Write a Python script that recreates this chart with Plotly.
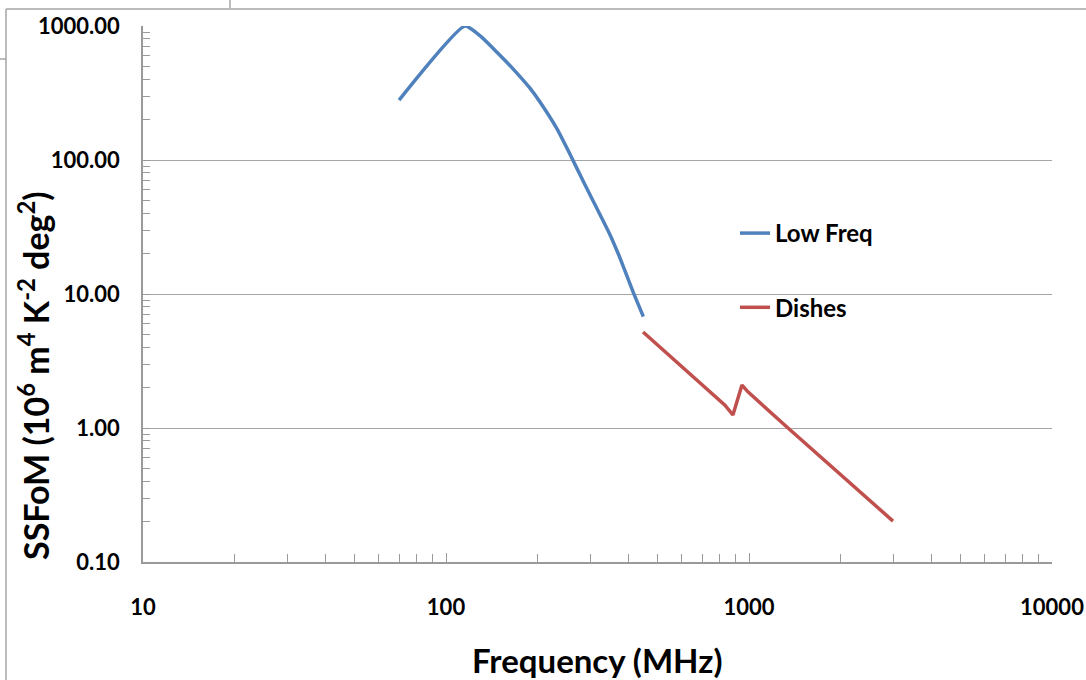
import plotly.graph_objects as go

# ---- data ----
low_freq_mhz = [70, 115.5, 130, 147, 167, 189, 204, 232, 260, 284, 314, 348, 375, 415, 448]
low_freq_ssfom = [280, 1000, 840, 640, 475, 345, 272, 172, 104, 69, 44, 27.6, 18.6, 10.3, 6.77]

dishes_mhz = [447, 833, 885, 948, 992, 1345, 2987]
dishes_ssfom = [5.21, 1.48, 1.25, 2.09, 1.86, 1.0, 0.202]

x_tickvals = [10, 100, 1000, 10000]
x_ticktext = ["10", "100", "1000", "10000"]
y_tickvals = [0.1, 1, 10, 100, 1000]
y_ticktext = ["0.10", "1.00", "10.00", "100.00", "1000.00"]
minor_digits = [2, 3, 4, 5, 6, 7, 8, 9]

# ---- geometry helpers (pixel -> paper) ----
W, H = 1086, 680
L, R, T, B = 143, 1052, 26, 562
def px(x):
    return (x - L) / (R - L)
def py(y):
    return (B - y) / (B - T)

FONT = "Lato"
GRID = "#a6a6a6"
AX = "#9a9a9a"

fig = go.Figure()
fig.add_trace(go.Scatter(x=low_freq_mhz, y=low_freq_ssfom, mode="lines", name="Low Freq",
                         legendgroup="a", line=dict(color="#4F81BD", width=3.5, shape="spline", smoothing=0.5)))
fig.add_trace(go.Scatter(x=dishes_mhz, y=dishes_ssfom, mode="lines", name="Dishes",
                         legendgroup="b", line=dict(color="#C0504D", width=3.5)))

x_minor = [d * 10 ** e for e in (1, 2, 3) for d in minor_digits]
y_minor = [d * 10 ** e for e in (-1, 0, 1, 2) for d in minor_digits]

fig.update_xaxes(type="log", range=[1, 4], tickvals=x_tickvals, ticktext=x_ticktext,
                 ticks="inside", ticklen=9, tickcolor=AX, tickwidth=1, automargin=False,
                 showline=True, linecolor=AX, linewidth=1.5, showgrid=False, zeroline=False,
                 tickfont=dict(family=FONT, size=22, color="black", weight="bold"),
                 ticklabelstandoff=25,
                 minor=dict(tickvals=x_minor, ticks="inside", ticklen=8, tickcolor=AX, showgrid=False))
fig.update_yaxes(type="log", range=[-1, 3], tickvals=y_tickvals, ticktext=y_ticktext,
                 ticks="inside", ticklen=7, tickcolor=AX, tickwidth=1, automargin=False,
                 showline=True, linecolor=AX, linewidth=1.5, showgrid=True, gridcolor=GRID, gridwidth=1.3,
                 zeroline=False,
                 tickfont=dict(family=FONT, size=22, color="black", weight="bold"),
                 ticklabelstandoff=17,
                 minor=dict(tickvals=y_minor, ticks="inside", ticklen=7, tickcolor=AX, showgrid=False))

fig.add_annotation(text="SSFoM (10<sup>6</sup> m<sup>4</sup> K<sup>-2</sup> deg<sup>2</sup>)",
                   xref="paper", yref="paper", x=px(34), y=py(376), textangle=-90,
                   showarrow=False, xanchor="center", yanchor="middle",
                   font=dict(family=FONT, size=34, color="black", weight="bold"))
fig.add_annotation(text="Frequency (MHz)", xref="paper", yref="paper", x=px(597), y=py(660),
                   showarrow=False, xanchor="center", yanchor="middle",
                   font=dict(family=FONT, size=33, color="black", weight="bold"))

# chart-area frame pieces visible in the screenshot
frame = dict(color="#a6a6a6", width=1.5)
fig.add_shape(type="line", xref="paper", yref="paper", x0=px(6), x1=px(1090), y0=py(9), y1=py(9), line=frame)
fig.add_shape(type="line", xref="paper", yref="paper", x0=px(6), x1=px(6), y0=py(9), y1=py(685), line=frame)
fig.add_shape(type="line", xref="paper", yref="paper", x0=px(230), x1=px(230), y0=py(-5), y1=py(8), line=frame)
fig.add_shape(type="line", xref="paper", yref="paper", x0=px(-5), x1=px(6), y0=py(59), y1=py(59), line=frame)

fig.update_layout(
    width=W, height=H,
    margin=dict(l=L, r=W - R, t=T, b=H - B, autoexpand=False),
    paper_bgcolor="white", plot_bgcolor="white",
    showlegend=True,
    legend=dict(x=px(735), y=py(211), xanchor="left", yanchor="top",
                traceorder="grouped", tracegroupgap=40, bgcolor="rgba(0,0,0,0)",
                font=dict(family=FONT, size=24, color="black", weight="bold")),
)

fig.write_html("out.html", config={"displayModeBar": False},
               post_script="document.body.style.margin='0px';document.body.style.overflow='hidden';")
